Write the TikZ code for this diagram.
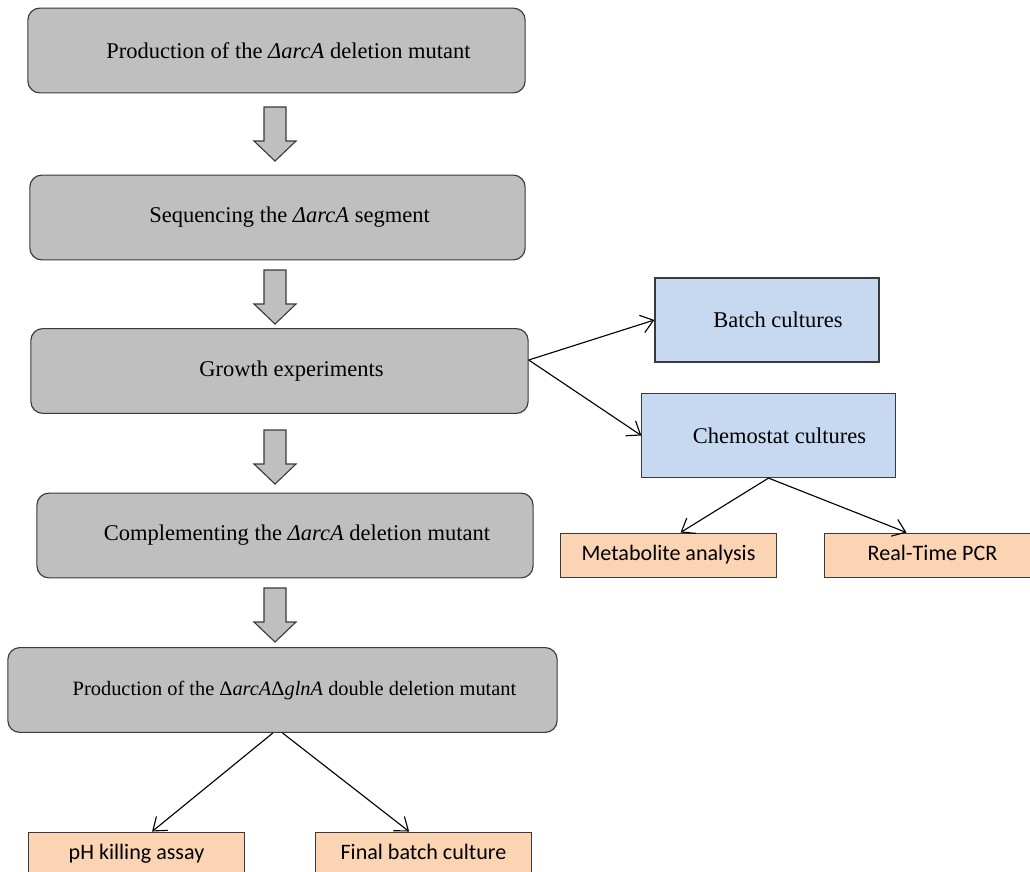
\documentclass[tikz,border=0pt]{standalone}
\usepackage{fontspec}
\setmainfont{Liberation Serif}
\newfontfamily\calibri{Carlito}
\usepackage{tikz}
\usetikzlibrary{positioning,arrows.meta}
\usepackage{xcolor}

\definecolor{stepgray}{HTML}{BFBFBF}
\definecolor{edgegray}{HTML}{3A3A3A}
\definecolor{cultblue}{HTML}{C6D9F1}
\definecolor{anaorange}{HTML}{FBD4B4}

\tikzset{
  mainstep/.style={draw=edgegray,line width=0.8pt,fill=stepgray,rounded corners=0.3cm,
    minimum height=2.12cm,font=\fontsize{16}{19}\selectfont,
    execute at begin node={\hspace*{6mm}}},
  culture/.style={draw=edgegray,line width=0.8pt,fill=cultblue,minimum height=2.1cm,
    font=\fontsize{16}{19}\selectfont,execute at begin node={\hspace*{5.5mm}}},
  analysis/.style={draw=edgegray,line width=0.8pt,fill=anaorange,minimum width=5.38cm,
    minimum height=1.12cm,text height=0.9em,text depth=0.13em,
    font=\calibri\fontsize{15.7}{18}\selectfont},
  blockdown/.pic={\draw[draw=edgegray,line width=0.8pt,fill=stepgray]
    (-11,0) -- (11,0) -- (11,34) -- (21,34) -- (0,54) -- (-21,34) -- (-11,34) -- cycle;}
}

\begin{document}
\begin{tikzpicture}[x=0.025cm,y=-0.025cm,>={Straight Barb[length=3mm,width=4.5mm]}]
\useasboundingbox (0,0) rectangle (1030,872);
\clip (0,0) rectangle (1030,872);
% main line of work
\node[mainstep,minimum width=12.43cm] (mutant) at (276.5,50.5) {Production of the \textit{ΔarcA} deletion mutant};
\node[mainstep,minimum width=12.38cm] (seq) at (277.5,217.5) {Sequencing the \textit{ΔarcA} segment};
\node[mainstep,minimum width=12.43cm] (growth) at (279.5,371) {Growth experiments};
\node[mainstep,minimum width=12.4cm] (compl) at (285,535.5) {Complementing the \textit{ΔarcA} deletion mutant};
\node[mainstep,minimum width=13.73cm,font=\fontsize{14.5}{17}\selectfont] (double) at (282.5,690) {Production of the Δ\textit{arcA}Δ\textit{glnA} double deletion mutant};
\foreach \t in {107,270,430,588}
  \pic at (275,\t) {blockdown};
% growth experiments
\node[culture,minimum width=5.6cm] (batch) at (767,320) {Batch cultures};
\node[culture,minimum width=6.33cm] (chemo) at (768.5,435.5) {Chemostat cultures};
\node[analysis] (metab) at (668.5,555.5) {Metabolite analysis};
\node[analysis] (rtpcr) at (932.5,555.5) {Real-Time PCR};
\draw[->,thick] ([yshift=2.75mm]growth.east) -- (batch.west);
\draw[->,thick] ([yshift=2.75mm]growth.east) -- (chemo.west);
\draw[->,thick] (chemo.south) -- ([xshift=3mm]metab.north);
\draw[->,thick] (chemo.south) -- ([xshift=-6.5mm]rtpcr.north);
% double mutant
\node[analysis] (phkill) at (136.5,854.5) {pH killing assay};
\node[analysis] (final) at (423.5,854.5) {Final batch culture};
\draw[->,thick] ([xshift=-2.4mm]double.south) -- ([xshift=3.9mm]phkill.north);
\draw[->,thick] (double.south) -- ([xshift=-3.6mm]final.north);
\end{tikzpicture}
\end{document}
